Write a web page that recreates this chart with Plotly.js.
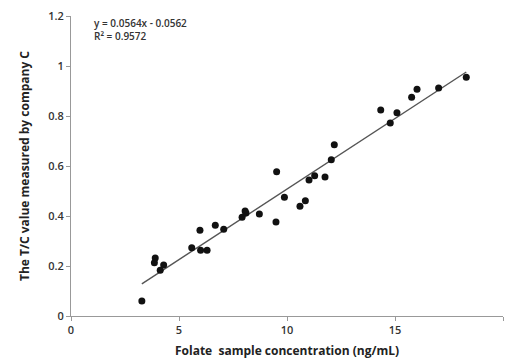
<!DOCTYPE html>
<html>
<head>
<meta charset="utf-8">
<script src="https://cdn.plot.ly/plotly-3.0.1.min.js"></script>
<style>html,body{margin:0;padding:0;background:#fff;}#chart{width:507px;height:362px;}</style>
</head>
<body>
<div id="chart"></div>
<script>
const concentration = [3.28, 3.86, 3.9, 4.13, 4.29, 5.59, 5.97, 6.0, 6.3, 6.68, 7.07, 7.92, 8.06, 8.1, 8.72, 9.49, 9.52, 9.88, 10.6, 10.85, 11.02, 11.28, 11.76, 12.05, 12.19, 14.34, 14.78, 15.09, 15.77, 16.02, 17.02, 18.3];
const tcValue = [0.06, 0.213, 0.232, 0.183, 0.204, 0.273, 0.343, 0.263, 0.263, 0.363, 0.347, 0.395, 0.42, 0.412, 0.408, 0.376, 0.577, 0.475, 0.439, 0.461, 0.544, 0.561, 0.556, 0.625, 0.685, 0.824, 0.772, 0.813, 0.875, 0.907, 0.912, 0.955];
const slope = 0.0564;
const intercept = -0.0562;
const rSquared = 0.9572;
const xTicks = [0, 5, 10, 15, 20];
const yTicks = [0, 0.2, 0.4, 0.6, 0.8, 1, 1.2];
const yTickText = ['0', '0.2', '0.4', '0.6', '0.8', '1', '1.2'];

const xMin = Math.min(...concentration), xMax = Math.max(...concentration);
const fitX = [xMin, xMax];
const fitY = fitX.map(x => slope * x + intercept);

const font = "'Open Sans', 'Noto Sans', sans-serif";
const data = [
  {x: fitX, y: fitY, mode: 'lines', type: 'scatter', line: {color: '#555555', width: 1.4}, hoverinfo: 'skip'},
  {x: concentration, y: tcValue, mode: 'markers', type: 'scatter',
   marker: {color: '#111111', size: 7, line: {width: 0}}}
];
const layout = {
  width: 507, height: 362,
  margin: {l: 71, r: 4, t: 16, b: 46},
  paper_bgcolor: '#ffffff', plot_bgcolor: '#ffffff',
  showlegend: false,
  font: {family: font, color: '#333333', size: 11},
  xaxis: {
    range: [0, 20], tickvals: xTicks, ticks: 'outside', ticklen: 4, tickcolor: '#999999', tickwidth: 1,
    showline: true, linecolor: '#999999', linewidth: 1, showgrid: false, zeroline: false,
    tickfont: {family: font, size: 11, color: '#333333', weight: 600},
    title: {text: 'Folate  sample concentration (ng/mL)', font: {family: font, size: 12, color: '#222222', weight: 700}, standoff: 10}
  },
  yaxis: {
    range: [0, 1.2], tickvals: yTicks, ticktext: yTickText, ticks: 'outside', ticklen: 4, tickcolor: '#999999', tickwidth: 1,
    showline: true, linecolor: '#999999', linewidth: 1, showgrid: false, zeroline: false,
    tickfont: {family: font, size: 11, color: '#333333', weight: 600},
    title: {text: 'The T/C value measured by company C', font: {family: font, size: 12, color: '#222222', weight: 700}, standoff: 16}
  },
  annotations: [{
    xref: 'paper', yref: 'paper', x: 0.048, y: 1.008, xanchor: 'left', yanchor: 'top', align: 'left', showarrow: false,
    text: 'y = ' + slope + 'x - ' + Math.abs(intercept) + '<br>R² = ' + rSquared,
    font: {family: font, size: 10, color: '#333333', weight: 600}
  }]
};
Plotly.newPlot('chart', data, layout, {displayModeBar: false, staticPlot: true});
</script>
</body>
</html>
